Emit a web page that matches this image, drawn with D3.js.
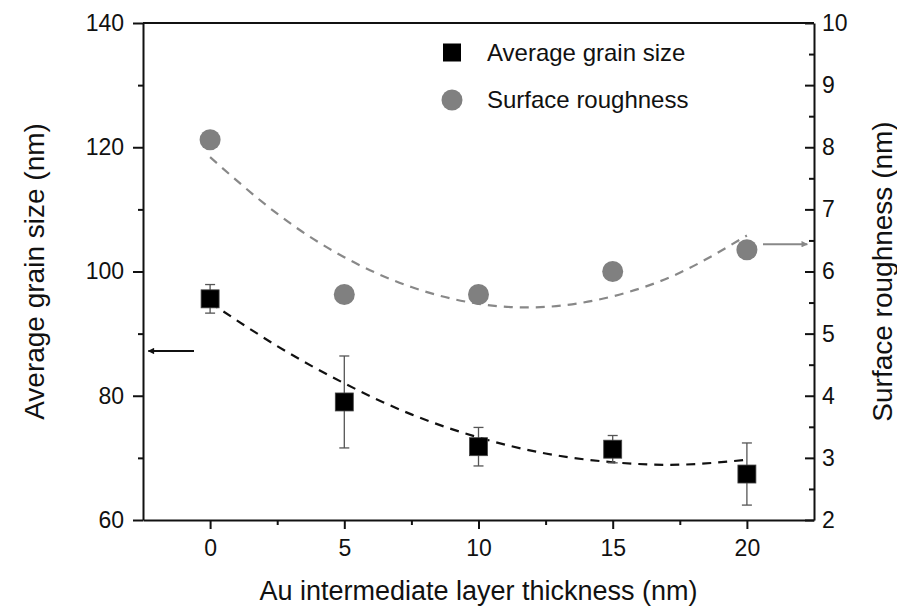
<!DOCTYPE html>
<html>
<head>
<meta charset="utf-8">
<script src="https://cdn.jsdelivr.net/npm/d3@7"></script>
<style>
  html, body { margin: 0; padding: 0; background: #fff; }
  svg { display: block; font-family: "Liberation Sans", Arial, sans-serif; }
</style>
</head>
<body>
<svg id="chart" width="897" height="609"></svg>
<script>
// thickness of Au layer (nm)
const thickness = [0, 5, 10, 15, 20];
// average grain size (nm) with error
const grainSize = [95.6, 79.0, 71.8, 71.4, 67.4];
const grainErr  = [2.3, 7.4, 3.1, 2.2, 5.0];
// surface roughness (nm)
const roughness = [8.12, 5.63, 5.63, 6.0, 6.35];

// dashed fit curves
const fitX     = [0, 2.5, 5, 7.5, 10, 12.5, 15, 17.5, 20];
const grainFit = [95.0, 88.0, 82.0, 77.0, 73.3, 70.7, 69.3, 68.9, 69.7];
const roughFit = [7.84, 6.93, 6.23, 5.75, 5.48, 5.43, 5.60, 5.98, 6.58];

const xTicks = [0, 5, 10, 15, 20];
const xMinor = [2.5, 7.5, 12.5, 17.5];
const yLeftTicks = [60, 80, 100, 120, 140];
const yLeftMinor = [70, 90, 110, 130];
const yRightTicks = [2, 3, 4, 5, 6, 7, 8, 9, 10];
const yRightMinor = [2.5, 3.5, 4.5, 5.5, 6.5, 7.5, 8.5, 9.5];

const svg = d3.select("#chart");
const margin = {top: 23, right: 83, bottom: 89, left: 143};
const W = 897, H = 609;

const x = d3.scaleLinear().domain([-2.5, 22.5]).range([margin.left, W - margin.right]);
const yL = d3.scaleLinear().domain([60, 140]).range([H - margin.bottom, margin.top]);
const yR = d3.scaleLinear().domain([2, 10]).range([H - margin.bottom, margin.top]);

// arrow heads
const defs = svg.append("defs");
function arrowHead(id, color) {
  defs.append("marker")
    .attr("id", id)
    .attr("viewBox", "0 0 10 10")
    .attr("refX", 9).attr("refY", 5)
    .attr("markerWidth", 5).attr("markerHeight", 3.2)
    .attr("markerUnits", "strokeWidth")
    .attr("orient", "auto")
    .append("path")
    .attr("d", "M0,0 L10,5 L0,10 z")
    .attr("fill", color);
}
arrowHead("arrBlack", "#111");
arrowHead("arrGray", "#888");

// top frame line
svg.append("line")
  .attr("x1", x(-2.5)).attr("x2", x(22.5))
  .attr("y1", yL(140)).attr("y2", yL(140))
  .attr("stroke", "#111").attr("stroke-width", 2);

function styleAxis(g) {
  g.select(".domain").attr("stroke", "#111").attr("stroke-width", 2);
  g.selectAll(".tick line").attr("stroke", "#111").attr("stroke-width", 2);
  g.selectAll(".tick text").attr("fill", "#111")
    .style("font-family", '"Liberation Sans", Arial, sans-serif');
}

// bottom axis
const gx = svg.append("g")
  .attr("transform", `translate(0,${H - margin.bottom})`)
  .call(d3.axisBottom(x).tickValues(xTicks).tickSize(9).tickSizeOuter(0).tickPadding(11))
  .call(styleAxis);
gx.selectAll(".tick text").style("font-size", "23px");
svg.append("g")
  .attr("transform", `translate(0,${H - margin.bottom})`)
  .call(d3.axisBottom(x).tickValues(xMinor).tickSize(5).tickFormat(""))
  .call(styleAxis)
  .select(".domain").remove();

// left axis
const gl = svg.append("g")
  .attr("transform", `translate(${margin.left},0)`)
  .call(d3.axisLeft(yL).tickValues(yLeftTicks).tickSize(10).tickSizeOuter(0).tickPadding(9))
  .call(styleAxis);
gl.selectAll(".tick text").style("font-size", "23px");
svg.append("g")
  .attr("transform", `translate(${margin.left},0)`)
  .call(d3.axisLeft(yL).tickValues(yLeftMinor).tickSize(5).tickFormat(""))
  .call(styleAxis)
  .select(".domain").remove();

// right axis, ticks pointing inward
const gr = svg.append("g")
  .attr("transform", `translate(${W - margin.right},0)`)
  .call(d3.axisRight(yR).tickValues(yRightTicks).tickSize(-9).tickSizeOuter(0).tickPadding(8))
  .call(styleAxis);
gr.selectAll(".tick text").style("font-size", "23px");
svg.append("g")
  .attr("transform", `translate(${W - margin.right},0)`)
  .call(d3.axisRight(yR).tickValues(yRightMinor).tickSize(-5).tickFormat(""))
  .call(styleAxis)
  .select(".domain").remove();

// axis titles
svg.append("text")
  .attr("x", x(10)).attr("y", 600)
  .attr("text-anchor", "middle")
  .attr("font-size", 27).attr("fill", "#111")
  .text("Au intermediate layer thickness (nm)");
svg.append("text")
  .attr("transform", `translate(44,${(margin.top + H - margin.bottom) / 2}) rotate(-90)`)
  .attr("text-anchor", "middle")
  .attr("font-size", 28).attr("fill", "#111")
  .text("Average grain size (nm)");
svg.append("text")
  .attr("transform", `translate(892,${(margin.top + H - margin.bottom) / 2}) rotate(-90)`)
  .attr("text-anchor", "middle")
  .attr("font-size", 28).attr("fill", "#111")
  .text("Surface roughness (nm)");

// fit curves
const lineL = d3.line().x((d, i) => x(fitX[i])).y(d => yL(d)).curve(d3.curveNatural);
const lineR = d3.line().x((d, i) => x(fitX[i])).y(d => yR(d)).curve(d3.curveNatural);
svg.append("path")
  .attr("d", lineR(roughFit))
  .attr("fill", "none").attr("stroke", "#888")
  .attr("stroke-width", 2.2).attr("stroke-dasharray", "9,7");
svg.append("path")
  .attr("d", lineL(grainFit))
  .attr("fill", "none").attr("stroke", "#111")
  .attr("stroke-width", 2.2).attr("stroke-dasharray", "9,7");

// error bars
const eb = svg.append("g").attr("stroke", "#555").attr("stroke-width", 1.3);
thickness.forEach((t, i) => {
  const cx = x(t);
  const top = yL(grainSize[i] + grainErr[i]);
  const bot = yL(grainSize[i] - grainErr[i]);
  eb.append("line").attr("x1", cx).attr("x2", cx).attr("y1", top).attr("y2", bot);
  eb.append("line").attr("x1", cx - 5).attr("x2", cx + 5).attr("y1", top).attr("y2", top);
  eb.append("line").attr("x1", cx - 5).attr("x2", cx + 5).attr("y1", bot).attr("y2", bot);
});

// squares: grain size
svg.selectAll(".sq")
  .data(thickness)
  .enter()
  .append("rect")
  .attr("class", "sq")
  .attr("x", d => x(d) - 9)
  .attr("y", (d, i) => yL(grainSize[i]) - 9)
  .attr("width", 18).attr("height", 18)
  .attr("fill", "#000").attr("stroke", "#444").attr("stroke-width", 0.8);

// circles: roughness
svg.selectAll(".ci")
  .data(thickness)
  .enter()
  .append("circle")
  .attr("class", "ci")
  .attr("cx", d => x(d))
  .attr("cy", (d, i) => yR(roughness[i]))
  .attr("r", 10.5)
  .attr("fill", "#808080");

// axis pointer arrows
svg.append("line")
  .attr("x1", x(-0.6)).attr("x2", x(-2.3))
  .attr("y1", yL(87.2)).attr("y2", yL(87.2))
  .attr("stroke", "#111").attr("stroke-width", 2)
  .attr("marker-end", "url(#arrBlack)");
svg.append("line")
  .attr("x1", x(20.6)).attr("x2", x(22.25))
  .attr("y1", yR(6.44)).attr("y2", yR(6.44))
  .attr("stroke", "#888").attr("stroke-width", 2)
  .attr("marker-end", "url(#arrGray)");

// legend
const legend = svg.append("g").attr("transform", "translate(452,0)");
legend.append("rect")
  .attr("x", -9).attr("y", 52.5 - 9).attr("width", 18).attr("height", 18)
  .attr("fill", "#000");
legend.append("circle")
  .attr("cx", 0).attr("cy", 100).attr("r", 10.5).attr("fill", "#808080");
legend.append("text")
  .attr("x", 35).attr("y", 52.5).attr("dy", "0.35em")
  .attr("font-size", 24).attr("fill", "#111")
  .text("Average grain size");
legend.append("text")
  .attr("x", 35).attr("y", 100).attr("dy", "0.35em")
  .attr("font-size", 24).attr("fill", "#111")
  .text("Surface roughness");
</script>
</body>
</html>
